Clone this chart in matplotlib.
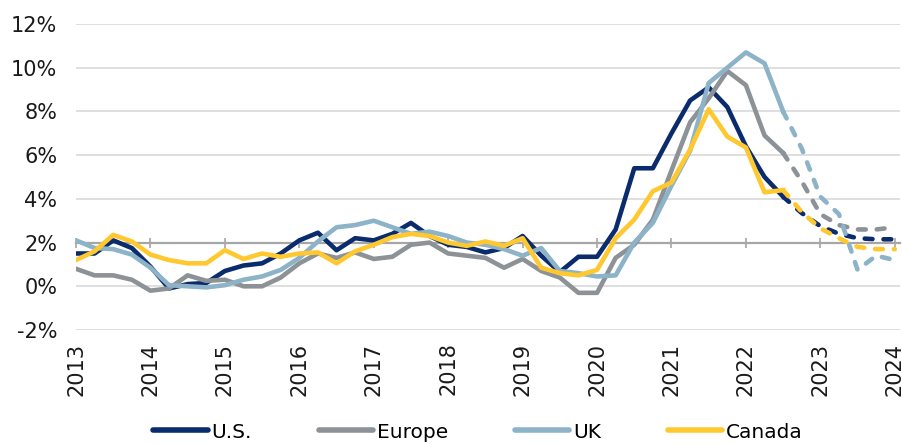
import numpy as np
import matplotlib.pyplot as plt
from matplotlib.lines import Line2D

plt.rcParams['font.family'] = 'DejaVu Sans'

# quarterly points, 2013 Q1 .. 2024 Q1
quarters = 2013 + np.arange(45) / 4
forecast_start = 38  # from here on the lines are dashed (outlook)

us = [1.5, 1.5, 2.1, 1.75, 0.9, -0.1, 0.1, 0.15, 0.7, 0.95, 1.05, 1.5,
      2.1, 2.45, 1.65, 2.2, 2.1, 2.4, 2.9, 2.3, 1.9, 1.8, 1.55, 1.75,
      2.3, 1.4, 0.65, 1.35, 1.35, 2.6, 5.4, 5.4, 7.0, 8.5, 9.1, 8.2,
      6.4, 5.0, 4.1, 3.35, 2.75, 2.4, 2.2, 2.15, 2.15]
europe = [0.8, 0.5, 0.5, 0.3, -0.2, -0.1, 0.5, 0.25, 0.3, 0.0, 0.0, 0.4,
          1.05, 1.5, 1.3, 1.55, 1.25, 1.35, 1.9, 2.0, 1.5, 1.4, 1.3, 0.85,
          1.25, 0.7, 0.4, -0.3, -0.3, 1.3, 1.9, 3.05, 5.3, 7.5, 8.6, 9.85,
          9.2, 6.9, 6.1, 4.8, 3.3, 2.8, 2.6, 2.6, 2.7]
uk = [2.1, 1.75, 1.7, 1.45, 0.85, 0.05, 0.0, -0.05, 0.05, 0.3, 0.45, 0.75,
      1.3, 2.05, 2.7, 2.8, 3.0, 2.7, 2.4, 2.5, 2.3, 2.0, 1.9, 1.7,
      1.4, 1.75, 0.7, 0.6, 0.45, 0.5, 2.0, 2.9, 4.6, 6.2, 9.3, 10.0,
      10.7, 10.2, 8.0, 6.3, 4.1, 3.3, 0.75, 1.4, 1.2]
canada = [1.2, 1.6, 2.35, 2.05, 1.45, 1.2, 1.05, 1.05, 1.65, 1.25, 1.5, 1.35,
          1.5, 1.55, 1.05, 1.6, 1.9, 2.25, 2.4, 2.3, 2.0, 1.85, 2.05, 1.85,
          2.2, 0.85, 0.6, 0.5, 0.75, 2.2, 3.05, 4.35, 4.75, 6.25, 8.1, 6.85,
          6.35, 4.3, 4.4, 3.4, 2.65, 2.2, 1.8, 1.7, 1.7]

names = ["U.S.", "Europe", "UK", "Canada"]
colors = ["#0B2C6C", "#8D9297", "#8CB3C7", "#FFC82E"]
year_ticks = list(range(2013, 2025))

fig = plt.figure(figsize=(9.03, 4.44), dpi=100)
ax = fig.add_axes([76 / 903, 1 - 330 / 444, 824 / 903, 306 / 444])

for vals, col in zip([us, europe, uk, canada], colors):
    vals = np.array(vals)
    ax.plot(quarters[:forecast_start + 1], vals[:forecast_start + 1],
            color=col, lw=3.3, zorder=3)
    ax.plot(quarters[forecast_start:], vals[forecast_start:],
            color=col, lw=3.3, ls=(0, (1.7, 2.4)), dash_capstyle='round', zorder=3)

ax.set_xlim(2013, 2024.07)
ax.set_ylim(-2, 12)
yt = list(range(-2, 13, 2))
ax.set_yticks(yt)
ax.set_yticklabels([f"{v}%" for v in yt])
ax.yaxis.grid(True, color='#D9D9D9', lw=1.2)
ax.set_axisbelow(True)
ax.tick_params(axis='y', length=0, pad=13.5, labelsize=15, labelcolor='#1A1A1A')

for s in ['left', 'top', 'right']:
    ax.spines[s].set_visible(False)
# horizontal axis crosses at 2%
ax.spines['bottom'].set_position(('data', 2))
ax.spines['bottom'].set_color('#A6A6A6')
ax.spines['bottom'].set_linewidth(1.6)
ax.set_xticks(year_ticks)
ax.tick_params(axis='x', direction='inout', length=7, width=1.2,
               color='#A6A6A6', labelbottom=False)

# year labels stay at the bottom
sec = ax.secondary_xaxis(0)
sec.set_xticks(year_ticks)
sec.set_xticklabels([str(y) for y in year_ticks])
sec.tick_params(length=0, pad=9, labelsize=15, labelrotation=90, labelcolor='#1A1A1A')
sec.spines['bottom'].set_visible(False)

handles = [Line2D([], [], color=c, lw=4, solid_capstyle='round') for c in colors]
fig.legend(handles, names, loc='center', bbox_to_anchor=(478 / 903, 1 - 432 / 444),
           ncol=4, frameon=False, fontsize=14.5, handlelength=2.7,
           handletextpad=0.2, columnspacing=3.3, borderaxespad=0, borderpad=0)

fig.savefig('out.png', dpi=100)
